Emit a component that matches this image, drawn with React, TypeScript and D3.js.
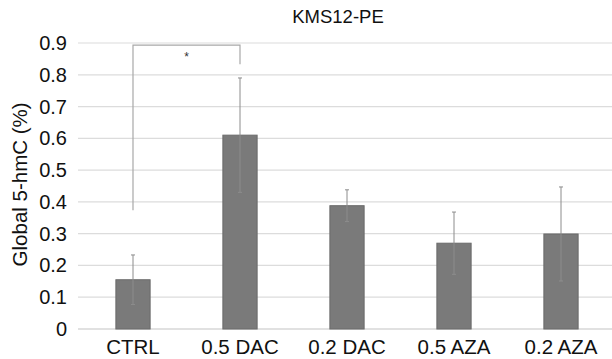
import React, { useEffect, useRef } from 'react';
import * as d3 from 'd3';

const categories = ['CTRL', '0.5 DAC', '0.2 DAC', '0.5 AZA', '0.2 AZA'];
const means = [0.155, 0.61, 0.388, 0.27, 0.299];
const errors = [0.078, 0.18, 0.05, 0.098, 0.148];
const yTicks = [0, 0.1, 0.2, 0.3, 0.4, 0.5, 0.6, 0.7, 0.8, 0.9];
const sigPair = ['CTRL', '0.5 DAC'];
const sigLevels = [0.374, 0.893, 0.833]; // left leg start, top, right leg end

const W = 612;
const H = 359;
const FONT = '"Liberation Sans", Arial, Helvetica, sans-serif';

const App = () => {
    const ref = useRef<SVGSVGElement>(null);

    useEffect(() => {
        const svg = d3.select(ref.current);
        svg.selectAll('*').remove();

        const x = d3.scaleBand<string>()
            .domain(categories)
            .range([79.5, 614.5])
            .padding(0);
        const y = d3.scaleLinear().domain([0, 0.9]).range([329, 43]);
        const barW = x.bandwidth() * 0.32;
        const cx = (c: string) => (x(c) as number) + x.bandwidth() / 2;

        // gridlines
        svg.append('g')
            .selectAll('line')
            .data(yTicks)
            .join('line')
            .attr('x1', 78)
            .attr('x2', W)
            .attr('y1', d => y(d))
            .attr('y2', d => y(d))
            .attr('stroke', d => (d === 0 ? '#c4c4c4' : '#dcdcdc'))
            .attr('stroke-width', 1.2);

        // y tick labels
        svg.append('g')
            .selectAll('text')
            .data(yTicks)
            .join('text')
            .attr('x', 67)
            .attr('y', d => y(d))
            .attr('dy', '0.35em')
            .attr('text-anchor', 'end')
            .attr('font-family', FONT)
            .attr('font-size', 20)
            .attr('fill', '#111')
            .text(d => (d === 0 ? '0' : d3.format('.1f')(d)));

        // x labels
        svg.append('g')
            .selectAll('text')
            .data(categories)
            .join('text')
            .attr('x', d => cx(d))
            .attr('y', 354)
            .attr('text-anchor', 'middle')
            .attr('font-family', FONT)
            .attr('font-size', 20.5)
            .attr('fill', '#111')
            .text(d => d);

        // bars
        svg.append('g')
            .selectAll('rect')
            .data(categories)
            .join('rect')
            .attr('x', d => cx(d) - barW / 2)
            .attr('y', (d, i) => y(means[i]))
            .attr('width', barW)
            .attr('height', (d, i) => y(0) - y(means[i]))
            .attr('fill', '#7a7a7a')
            .attr('stroke', '#6a6a6a')
            .attr('stroke-width', 1);

        // error bars
        const eb = svg.append('g').attr('stroke', '#8c8c8c').attr('stroke-width', 1);
        categories.forEach((c, i) => {
            const hi = y(means[i] + errors[i]);
            const lo = y(means[i] - errors[i]);
            eb.append('line').attr('x1', cx(c)).attr('x2', cx(c)).attr('y1', hi).attr('y2', lo);
            eb.append('line').attr('x1', cx(c) - 2).attr('x2', cx(c) + 2).attr('y1', hi).attr('y2', hi);
            eb.append('line').attr('x1', cx(c) - 2).attr('x2', cx(c) + 2).attr('y1', lo).attr('y2', lo);
        });

        // significance bracket
        const xa = cx(sigPair[0]);
        const xb = cx(sigPair[1]);
        svg.append('path')
            .attr('d', `M${xa},${y(sigLevels[0])}V${y(sigLevels[1])}H${xb}V${y(sigLevels[2])}`)
            .attr('fill', 'none')
            .attr('stroke', '#a8a8a8')
            .attr('stroke-width', 1.2);
        svg.append('text')
            .attr('x', (xa + xb) / 2)
            .attr('y', y(sigLevels[1]) + 16)
            .attr('text-anchor', 'middle')
            .attr('font-family', FONT)
            .attr('font-size', 12)
            .attr('fill', '#333')
            .text('*');

        // title
        svg.append('text')
            .attr('x', 338)
            .attr('y', 23)
            .attr('text-anchor', 'middle')
            .attr('font-family', FONT)
            .attr('font-size', 18.5)
            .attr('fill', '#111')
            .text('KMS12-PE');

        // y axis title
        svg.append('text')
            .attr('transform', `translate(27,${y(0.455)}) rotate(-90)`)
            .attr('text-anchor', 'middle')
            .attr('font-family', FONT)
            .attr('font-size', 20.5)
            .attr('fill', '#111')
            .text('Global 5-hmC (%)');
    }, []);

    return (
        <svg
            ref={ref}
            width={W}
            height={H}
            style={{ position: 'absolute', left: 0, top: 0, background: '#fff' }}
        />
    );
};

export default App;
